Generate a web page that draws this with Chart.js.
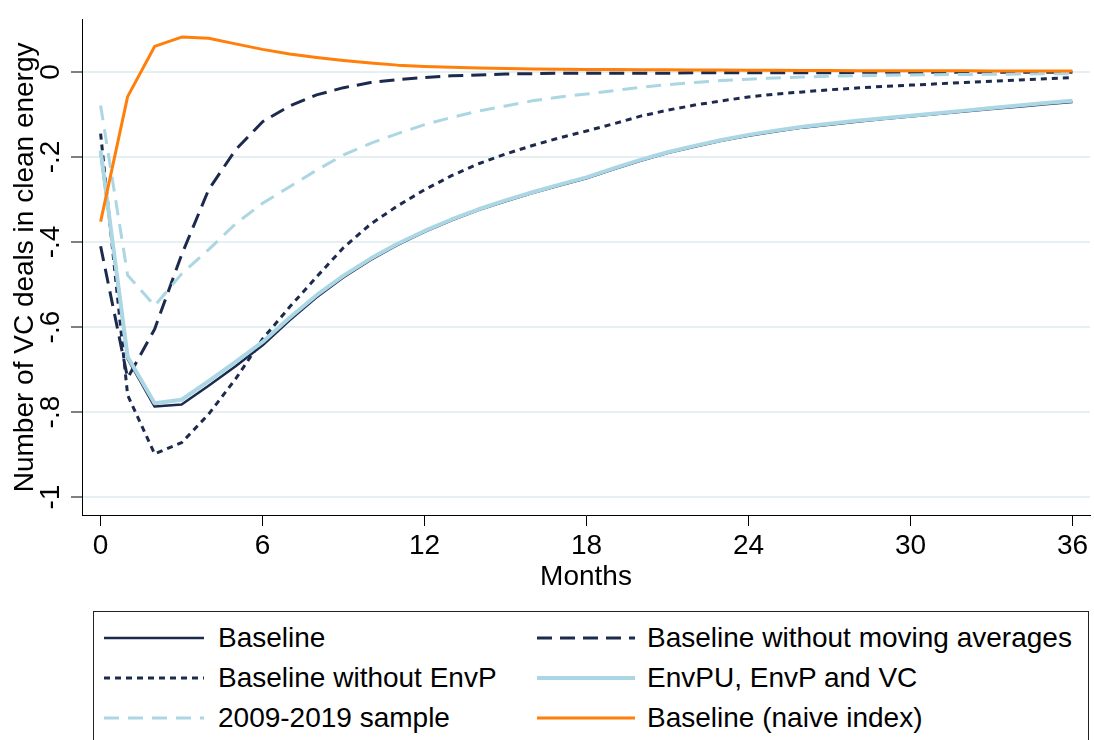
<!DOCTYPE html>
<html>
<head>
<meta charset="utf-8">
<script src="https://cdn.jsdelivr.net/npm/chart.js@4.4.0/dist/chart.umd.min.js"></script>
<style>
  html, body { margin: 0; padding: 0; background: #fff; overflow: hidden; }
  #wrap { position: absolute; left: 0; top: 0; width: 1094px; height: 600px; }
  #legend {
    position: absolute; left: 93px; top: 611px; width: 996px; height: 160px;
    border: 1.5px solid #222; box-sizing: border-box;
    font-family: 'Liberation Sans', Arial, Helvetica, sans-serif; font-size: 28px; color: #000;
  }
  .item { position: absolute; height: 40px; display: flex; align-items: center; white-space: nowrap; }
  .item svg { margin-right: 14px; }
  .item.right svg { margin-right: 12px; }
</style>
</head>
<body>
<div id="wrap"><canvas id="chart" width="1094" height="600"></canvas></div>
<div id="legend"></div>
<script>
// months after the shock
const months = [0, 1, 2, 3, 4, 5, 6, 7, 8, 9, 10, 11, 12, 13, 14, 15, 16, 17, 18,
  19, 20, 21, 22, 23, 24, 25, 26, 27, 28, 29, 30, 31, 32, 33, 34, 35, 36];

const baseline = [-0.190, -0.675, -0.787, -0.782, -0.738, -0.692, -0.643, -0.584, -0.530, -0.483,
  -0.442, -0.407, -0.376, -0.349, -0.325, -0.304, -0.285, -0.267, -0.250, -0.229, -0.209, -0.191,
  -0.176, -0.162, -0.150, -0.140, -0.131, -0.124, -0.117, -0.111, -0.105, -0.099, -0.093, -0.087,
  -0.082, -0.076, -0.071];

const noMovingAvg = [-0.410, -0.720, -0.605, -0.430, -0.277, -0.183, -0.117, -0.080, -0.054, -0.037,
  -0.025, -0.018, -0.013, -0.009, -0.007, -0.005, -0.004, -0.003, -0.003, -0.003, -0.003, -0.003,
  -0.002, -0.002, -0.002, -0.002, -0.002, -0.002, -0.001, -0.001, -0.001, -0.001, -0.001, -0.001,
  -0.001, -0.001, -0.001];

const noEnvP = [-0.145, -0.760, -0.898, -0.872, -0.805, -0.722, -0.628, -0.553, -0.482, -0.413,
  -0.358, -0.315, -0.277, -0.244, -0.216, -0.193, -0.173, -0.155, -0.139, -0.122, -0.104, -0.090,
  -0.078, -0.068, -0.059, -0.052, -0.047, -0.042, -0.038, -0.034, -0.031, -0.028, -0.025, -0.022,
  -0.019, -0.016, -0.013];

const envPuVc = [-0.185, -0.670, -0.779, -0.771, -0.727, -0.682, -0.635, -0.578, -0.525, -0.479,
  -0.439, -0.404, -0.374, -0.347, -0.323, -0.302, -0.283, -0.265, -0.248, -0.227, -0.207, -0.189,
  -0.174, -0.160, -0.148, -0.138, -0.129, -0.122, -0.115, -0.109, -0.103, -0.097, -0.091, -0.085,
  -0.079, -0.073, -0.068];

const sample0919 = [-0.079, -0.478, -0.550, -0.475, -0.418, -0.357, -0.309, -0.270, -0.231, -0.195,
  -0.168, -0.145, -0.124, -0.107, -0.092, -0.080, -0.068, -0.059, -0.052, -0.044, -0.036, -0.030,
  -0.025, -0.020, -0.017, -0.014, -0.012, -0.010, -0.009, -0.008, -0.007, -0.0065, -0.006, -0.0055,
  -0.005, -0.0045, -0.004];

const naiveIndex = [-0.352, -0.058, 0.060, 0.082, 0.079, 0.066, 0.053, 0.042, 0.034, 0.027,
  0.021, 0.016, 0.013, 0.011, 0.009, 0.008, 0.007, 0.0065, 0.006, 0.0055, 0.005, 0.005,
  0.0045, 0.0045, 0.004, 0.004, 0.0035, 0.0035, 0.003, 0.003, 0.003, 0.0025, 0.0025, 0.002,
  0.002, 0.002, 0.002];

const xTicks = [0, 6, 12, 18, 24, 30, 36];
const yTicks = [-1, -0.8, -0.6, -0.4, -0.2, 0];
const yTickLabels = ['-1', '-.8', '-.6', '-.4', '-.2', '0'];

const navy = '#1c2a4e';
const lightBlue = '#abd6e4';
const orange = '#ff7f0a';

const series = [
  { label: 'Baseline', data: baseline, color: navy, width: 2.5, dash: [] },
  { label: 'Baseline without moving averages', data: noMovingAvg, color: navy, width: 3, dash: [15, 8] },
  { label: 'Baseline without EnvP', data: noEnvP, color: navy, width: 3, dash: [6, 5] },
  { label: 'EnvPU, EnvP and VC', data: envPuVc, color: lightBlue, width: 4, dash: [] },
  { label: '2009-2019 sample', data: sample0919, color: lightBlue, width: 3, dash: [15, 9] },
  { label: 'Baseline (naive index)', data: naiveIndex, color: orange, width: 3, dash: [] },
];

const font = "'Liberation Sans', Arial, Helvetica, sans-serif";
Chart.defaults.font.family = font;
Chart.defaults.color = '#000';

const ctx = document.getElementById('chart').getContext('2d');
new Chart(ctx, {
  type: 'line',
  data: {
    datasets: series.map((s, i) => ({
      label: s.label,
      data: months.map((m, j) => ({ x: m, y: s.data[j] })),
      borderColor: s.color,
      backgroundColor: s.color,
      borderWidth: s.width,
      borderDash: s.dash,
      borderJoinStyle: 'round',
      pointRadius: 0,
      fill: false,
      tension: 0,
      order: series.length - i,
    })),
  },
  options: {
    responsive: false,
    animation: false,
    layout: { padding: { top: 15, right: 4, left: 0, bottom: 0 } },
    plugins: {
      legend: { display: false },
      tooltip: { enabled: false },
    },
    scales: {
      x: {
        type: 'linear',
        min: -0.69,
        max: 36.65,
        afterBuildTicks: s => { s.ticks = xTicks.map(v => ({ value: v })); },
        afterFit: s => { s.height = 85; },
        grid: { drawOnChartArea: false, drawTicks: true, tickLength: 11, tickColor: '#000', tickWidth: 1 },
        border: { color: '#000', width: 1 },
        ticks: { color: '#000', font: { size: 28 }, padding: 3, maxRotation: 0, autoSkip: false,
          callback: v => String(v) },
        title: { display: true, text: 'Months', color: '#000', font: { size: 28 },
          padding: { top: 0, bottom: 6 } },
      },
      y: {
        type: 'linear',
        min: -1.042,
        max: 0.1226,
        afterBuildTicks: s => { s.ticks = yTicks.map(v => ({ value: v })); },
        afterFit: s => { s.width = 82; },
        grid: { color: '#e6eff2', lineWidth: 2, drawTicks: true, tickLength: 11, tickColor: '#000', tickWidth: 1 },
        border: { color: '#000', width: 1 },
        ticks: { color: '#000', font: { size: 28 }, padding: 3, minRotation: 90, maxRotation: 90,
          crossAlign: 'center', autoSkip: false, callback: (v, i) => yTickLabels[i] },
        title: { display: true, text: 'Number of VC deals in clean energy', color: '#000',
          font: { size: 28 }, padding: { top: 8, bottom: 0 } },
      },
    },
  },
});

// legend box, two columns filled row by row
const legendPos = [
  { left: 10, top: 6 }, { left: 443, top: 6 },
  { left: 10, top: 46 }, { left: 443, top: 46 },
  { left: 10, top: 86 }, { left: 443, top: 86 },
];
const legend = document.getElementById('legend');
series.forEach((s, i) => {
  const p = legendPos[i];
  const w = i % 2 === 0 ? 100 : 98;
  const div = document.createElement('div');
  div.className = i % 2 === 0 ? 'item' : 'item right';
  div.style.left = p.left + 'px';
  div.style.top = p.top + 'px';
  div.innerHTML =
    '<svg width="' + w + '" height="10"><line x1="0" y1="5" x2="' + w + '" y2="5" stroke="' + s.color +
    '" stroke-width="' + s.width + '" stroke-dasharray="' + (s.dash.length ? s.dash.join(' ') : 'none') +
    '"/></svg><span>' + s.label + '</span>';
  legend.appendChild(div);
});
</script>
</body>
</html>
